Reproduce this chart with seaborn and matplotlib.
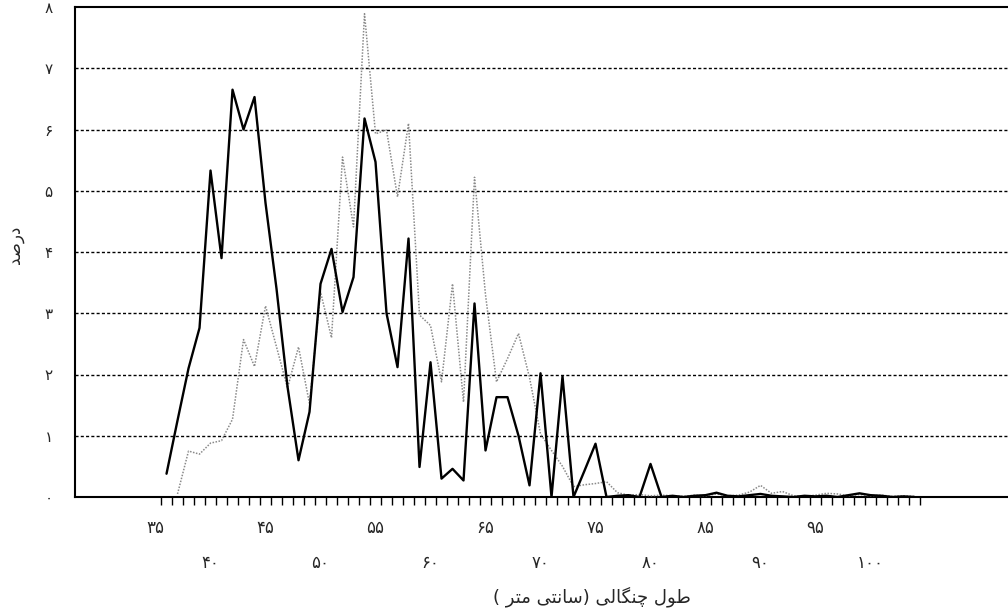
import numpy as np
import pandas as pd
import matplotlib
matplotlib.use("Agg")
import matplotlib.pyplot as plt
from matplotlib.ticker import FixedLocator
import seaborn as sns

# ---- data (fork length in cm, percent) ----
lengths = list(range(36, 105))
series_black = [0.38, 1.25, 2.1, 2.76, 5.33, 3.9, 6.65, 6.0, 6.53, 4.8,
                3.4, 1.8, 0.6, 1.39, 3.48, 4.05, 3.02, 3.59, 6.18, 5.47,
                3.0, 2.12, 4.22, 0.49, 2.2, 0.3, 0.46, 0.27, 3.16, 0.76,
                1.63, 1.63, 1.0, 0.19, 2.02, 0.0, 1.97, 0.0, 0.43, 0.87,
                0.0, 0.02, 0.03, 0.0, 0.54, 0.0,
                0.02, 0.0, 0.02, 0.03, 0.07, 0.02, 0.01, 0.03, 0.05, 0.02,
                0.01, 0.0, 0.02, 0.01, 0.02, 0.0, 0.03, 0.06, 0.03, 0.02,
                0.0, 0.01, 0.0]
series_gray = [np.nan, 0.05, 0.75, 0.7, 0.88, 0.92, 1.27, 2.57, 2.13, 3.12,
               2.45, 1.78, 2.45, 1.52, 3.35, 2.6, 5.55, 4.41, 7.89, 5.93,
               5.99, 4.9, 6.1, 2.97, 2.8, 1.88, 3.48, 1.55, 5.22, 3.3,
               1.88, 2.26, 2.67, 1.95, 1.03, 0.76, 0.5, 0.17, 0.2, 0.22,
               0.25,
               0.07, 0.03, 0.04, 0.02, 0.03, 0.02, 0.01, 0.03, 0.02, 0.05,
               0.02, 0.03, 0.08, 0.19, 0.06, 0.09, 0.02, 0.01, 0.03, 0.06,
               0.05, 0.02, 0.04, 0.02, 0.03, 0.01, 0.02, 0.01]

upper_ticks = [35, 45, 55, 65, 75, 85, 95]
lower_ticks = [40, 50, 60, 70, 80, 90, 100]
y_ticks = list(range(0, 9))

# Persian text, pre-shaped (presentation forms, visual left-to-right order)
ylabel_text = "\uFEAA\uFEBB\uFEAD\uFEA9"  # درصد
xlabel_text = ("( \uFEAE\uFE98\uFEE3 \uFBFD\uFE98\uFEE7\uFE8E\uFEB3) "
               "\uFBFD\uFEDF\uFE8E\uFB95\uFEE8\uFB7C \uFEDD\uFEEE\uFEC3")  # طول چنگالی (سانتی متر)

PERSIAN = str.maketrans("0123456789", "\u06F0\u06F1\u06F2\u06F3\u06F4\u06F5\u06F6\u06F7\u06F8\u06F9")
def fa(n):
    return str(n).translate(PERSIAN)

sns.set_theme(style="white")
plt.rcParams["font.family"] = ["DejaVu Sans"]

df = pd.DataFrame({"length": lengths, "black": series_black, "gray": series_gray})

fig = plt.figure(figsize=(10.08, 6.10), dpi=100)
ax = fig.add_axes([75 / 1008, 113 / 610, 933 / 1008, 490 / 610])

# grid lines
for yv in y_ticks[1:8]:
    ax.axhline(yv, color="black", lw=1.0, ls=(0, (2.2, 1.6)), zorder=1)

sns.lineplot(data=df, x="length", y="gray", ax=ax, color="#8a8a8a",
             lw=1.1, ls=(0, (1, 1)), zorder=3)
sns.lineplot(data=df, x="length", y="black", ax=ax, color="black",
             lw=1.7, zorder=4)

ax.set_xlim(27.68, 112.5)
ax.set_ylim(0, 8)

for s in ["left", "bottom", "top"]:
    ax.spines[s].set_visible(True)
    ax.spines[s].set_color("black")
    ax.spines[s].set_linewidth(1.5)
ax.spines["right"].set_visible(False)

# y axis
ax.set_yticks(y_ticks)
ax.set_yticklabels([fa(v) for v in y_ticks], fontsize=11)
ax.tick_params(axis="y", length=0, pad=16)

# x axis: boundary tick marks and staggered labels
ax.set_xticks(upper_ticks)
ax.set_xticklabels([fa(v) for v in upper_ticks], fontsize=12)
ax.xaxis.set_minor_locator(FixedLocator([v + 0.5 for v in range(35, 105)]))
ax.tick_params(axis="x", which="major", length=0, pad=16)
ax.tick_params(axis="x", which="minor", length=6, width=1.0, color="black",
               direction="out", bottom=True)

sec = ax.secondary_xaxis("bottom")
sec.set_xticks(lower_ticks)
sec.set_xticklabels([fa(v) for v in lower_ticks], fontsize=12)
sec.tick_params(axis="x", length=0, pad=41)
sec.spines["bottom"].set_visible(False)

ax.set_xlabel(xlabel_text, fontsize=13)
ax.xaxis.set_label_coords(0.554, -0.203)
ax.xaxis.label.set_va("center")
ax.set_ylabel(ylabel_text, fontsize=12)
ax.yaxis.set_label_coords(-0.055, 0.514)

fig.savefig("out.png", dpi=100)
